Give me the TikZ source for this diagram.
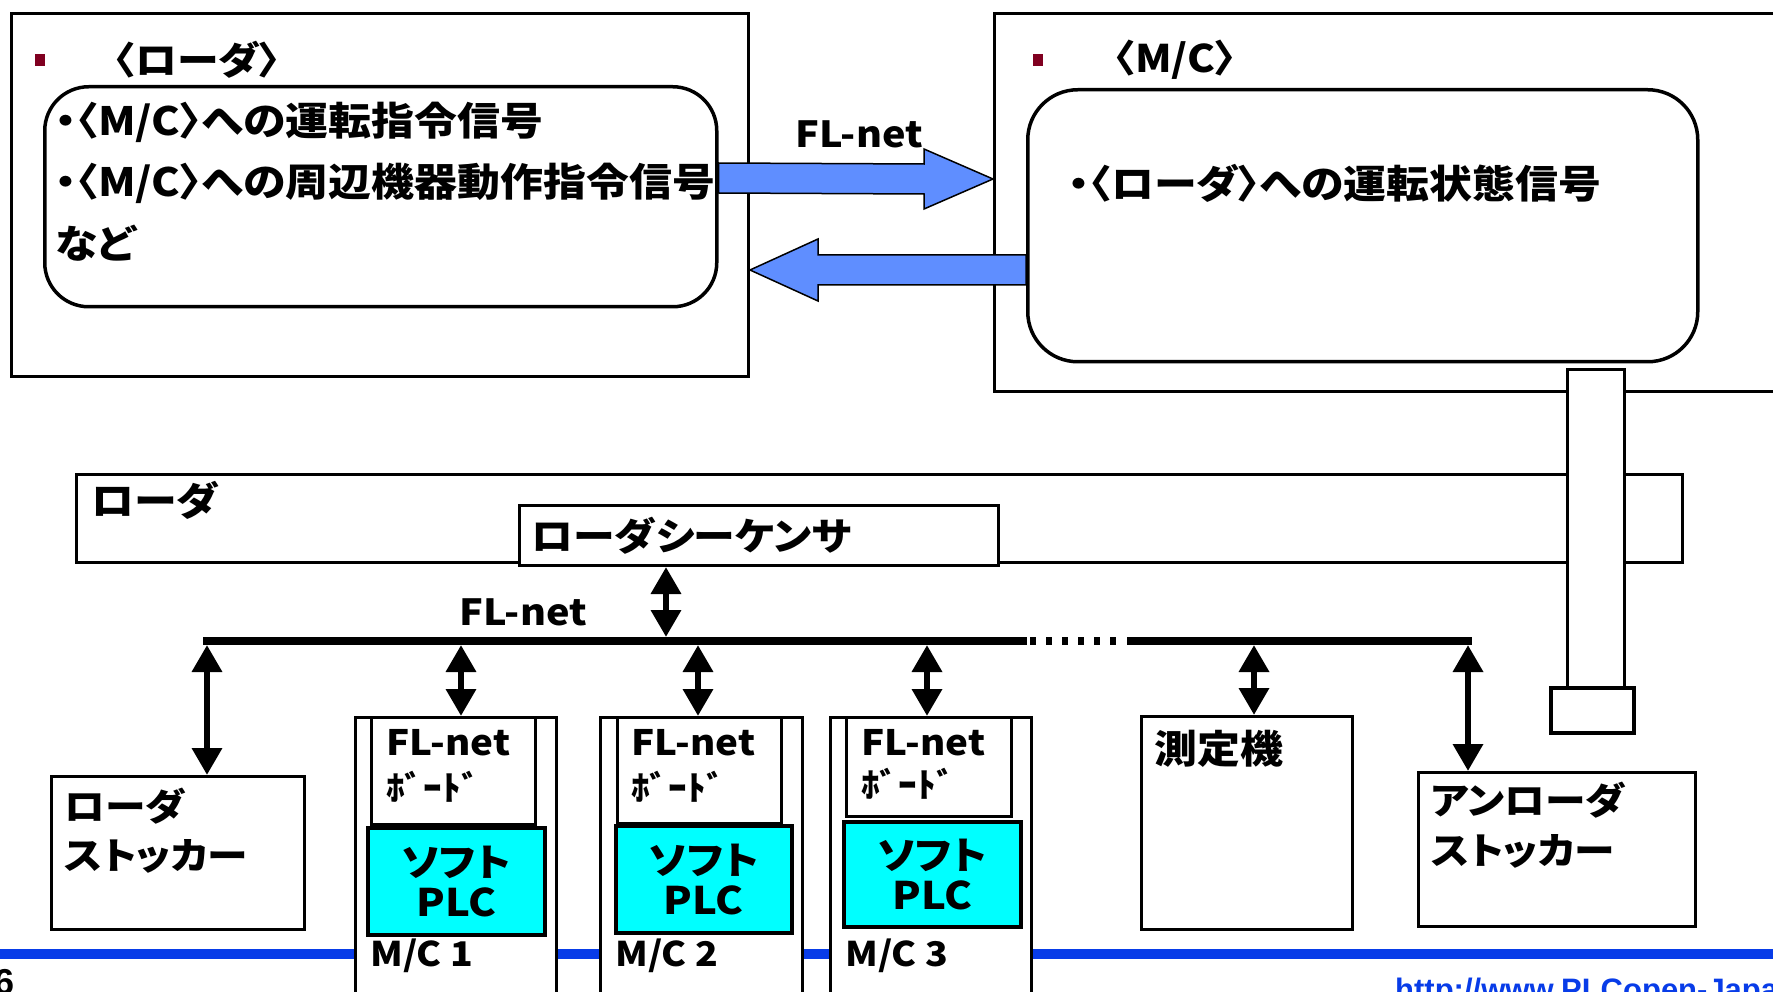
\documentclass[tikz,border=0pt]{standalone}
\usepackage{fontspec}
\setmainfont{Noto Sans CJK JP}[FakeStretch=1.1, RawFeature=+palt]
\newfontfamily\latinfont{Liberation Sans}
\usetikzlibrary{arrows.meta,calc}
\definecolor{arrowblue}{RGB}{95,142,255}
\definecolor{lineblue}{RGB}{8,60,232}
\definecolor{bulletred}{RGB}{128,0,32}
\definecolor{plccyan}{RGB}{0,255,255}
\newcommand\fz[1]{\bfseries\fontsize{#1}{#1}\selectfont}
\tikzset{
  boxx/.style={draw, line width=3pt, fill=white, inner sep=0pt, anchor=north west},
  rbx/.style={boxx, line width=3.5pt, rounded corners=44pt},
  txt/.style={inner sep=0pt, anchor=west},
  bul/.style={fill=bulletred, minimum width=10pt, minimum height=12pt, inner sep=0pt, anchor=north west},
  blockarrow/.style={fill=arrowblue, draw=black, line width=1.5pt, line join=miter},
  dbl/.style={line width=6.5pt, {Triangle[width=29pt,length=27pt]}-{Triangle[width=29pt,length=27pt]}},
  bus/.style={line width=8pt},
  plc/.style={boxx, fill=plccyan, line width=3.5pt},
}
\begin{document}
\begin{tikzpicture}[x=1pt, y=-1pt]
\useasboundingbox (0,0) rectangle (1773,992);
\clip (0,0) rectangle (1773,992);
\fill[white] (0,0) rectangle (1773,992);

% bottom blue rule
\coordinate (blL) at (0,954);
\coordinate (blR) at (1773,954);
\draw[lineblue, line width=10pt] (blL) -- (blR);

% ---------- top: loader ----------
\node[boxx, minimum width=737pt, minimum height=363pt] (lbox) at (10,12) {};
\node[bul] (lbul) at (35,54) {};
\node[txt, font=\fz{38}] (lhead) at (114,60) {〈ローダ〉};
\node[rbx, minimum width=672pt, minimum height=220pt] (lround) at (43,85) {};
\node[txt, font=\fz{39}] (l1) at (55,122) {・〈M/C〉への運転指令信号};
\node[txt, font=\fz{39}] (l2) at (55,183) {・〈M/C〉への周辺機器動作指令信号};
\node[txt, font=\fz{39}] (l3) at (55,243) {など};

% ---------- top: M/C ----------
\node[boxx, minimum width=820pt, minimum height=378pt] (rbox) at (993,12) {};
\node[bul] (rbul) at (1033,54) {};
\node[txt, font=\fz{38}] (rhead) at (1114,60) {〈M/C〉};
\node[rbx, rounded corners=50pt, minimum width=670pt, minimum height=272pt] (rround) at (1026,88) {};
\node[txt, font=\fz{39}] (r1) at (1068,183) {・〈ローダ〉への運転状態信号};

% ---------- block arrows ----------
\coordinate (ra0) at (lround.east |- 0,178);
\coordinate (ra1) at (rbox.west |- 0,179);
\draw[blockarrow] ($(ra0)+(0,-15)$) -- ($(ra1)+(-69,-15)$) -- ($(ra1)+(-69,-30)$) -- (ra1)
  -- ($(ra1)+(-69,30)$) -- ($(ra1)+(-69,15)$) -- ($(ra0)+(0,15)$) -- cycle;
\node[txt, font=\fz{36}] (flnet1) at (795,134) {FL-net};

\coordinate (la0) at (rround.west |- 0,270);
\coordinate (la1) at (lbox.east |- 0,270);
\draw[blockarrow] ($(la0)+(0,-15)$) -- ($(la1)+(68,-15)$) -- ($(la1)+(68,-31)$) -- (la1)
  -- ($(la1)+(68,31)$) -- ($(la1)+(68,15)$) -- ($(la0)+(0,15)$) -- cycle;

% ---------- loader body ----------
\node[boxx, minimum width=1606pt, minimum height=88pt] (loader) at (75,473) {};
\node[txt, font=\fz{39}] (loadertxt) at (91,500) {ローダ};
\node[boxx, minimum width=479pt, minimum height=60pt] (seq) at (518,504) {};
\node[txt, font=\fz{38}] (seqtxt) at (531,536) {ローダシーケンサ};

% arm
\node[boxx, minimum width=57pt, minimum height=318pt] (arm) at (1566,368) {};
\node[boxx, line width=3.5pt, minimum width=83pt, minimum height=45pt] (hand) at (1549,686) {};

% ---------- FL-net bus ----------
\coordinate (busL) at (203,641);
\coordinate (busA) at (1027,641);
\coordinate (busB) at (1030,641);
\coordinate (busC) at (1118,641);
\coordinate (busD) at (1127,641);
\coordinate (busR) at (1472,641);
\draw[bus] (busL) -- (busA);
\draw[bus, dash pattern=on 6pt off 10pt] (busB) -- (busC);
\draw[bus] (busD) -- (busR);
\node[txt, font=\fz{36}] (flnet2) at (459,612) {FL-net};

% ---------- stations ----------
\node[boxx, minimum width=253pt, minimum height=153pt] (lstock) at (50,775) {};
\node[txt, font=\fz{37}] (lst1) at (64,806) {ローダ};
\node[txt, font=\fz{37}] (lst2) at (64,856) {ストッカー};

% M/C 1
\node[boxx, minimum width=201pt, minimum height=300pt] (mc1) at (354,716) {};
\node[boxx, minimum width=164pt, minimum height=107pt] (brd1) at (370,716) {};
\node[plc, minimum width=177pt, minimum height=107pt] (plc1) at (366,826) {};
\node[txt, font=\fz{35}] (brd1a) at (386,743) {FL-net};
\node[txt, font=\fz{34}] (brd1b) at (386,787) {ﾎﾞｰﾄﾞ};
\node[inner sep=0pt, align=center, font=\fz{38}] (plc1t) at (plc1.center) {ソフト\\[2pt]PLC};
\node[txt, font=\fz{34}] (mc1t) at (370,956) {M/C 1};

% M/C 2
\node[boxx, minimum width=202pt, minimum height=300pt] (mc2) at (599,716) {};
\node[boxx, minimum width=164pt, minimum height=106pt] (brd2) at (616,716) {};
\node[plc, minimum width=176pt, minimum height=107pt] (plc2) at (614,824) {};
\node[txt, font=\fz{35}] (brd2a) at (631,743) {FL-net};
\node[txt, font=\fz{34}] (brd2b) at (631,787) {ﾎﾞｰﾄﾞ};
\node[inner sep=0pt, align=center, font=\fz{38}] (plc2t) at (plc2.center) {ソフト\\[2pt]PLC};
\node[txt, font=\fz{34}] (mc2t) at (615,956) {M/C 2};

% M/C 3
\node[boxx, minimum width=201pt, minimum height=300pt] (mc3) at (829,716) {};
\node[boxx, minimum width=165pt, minimum height=99pt] (brd3) at (845,716) {};
\node[plc, minimum width=177pt, minimum height=105pt] (plc3) at (842,820) {};
\node[txt, font=\fz{35}] (brd3a) at (861,743) {FL-net};
\node[txt, font=\fz{34}] (brd3b) at (861,784) {ﾎﾞｰﾄﾞ};
\node[inner sep=0pt, align=center, font=\fz{38}] (plc3t) at (plc3.center) {ソフト\\[2pt]PLC};
\node[txt, font=\fz{34}] (mc3t) at (845,956) {M/C 3};

% measuring machine
\node[boxx, minimum width=211pt, minimum height=213pt] (meas) at (1140,715) {};
\node[txt, font=\fz{39}] (meast) at (1154,749) {測定機};

% unloader stocker
\node[boxx, minimum width=277pt, minimum height=154pt] (ustock) at (1417,771) {};
\node[txt, font=\fz{37}] (ust1) at (1431,800) {アンローダ};
\node[txt, font=\fz{37}] (ust2) at (1431,851) {ストッカー};

% ---------- bus connectors ----------
\coordinate (t0) at (666,637);
\coordinate (t1) at (207,645);
\coordinate (t2) at (461,645);
\coordinate (t3) at (698,645);
\coordinate (t4) at (927,645);
\coordinate (t5) at (1254,645);
\coordinate (t6) at (1468,645);
\draw[dbl] (seq.south -| t0) -- (t0);
\draw[dbl] (t1) -- (t1 |- lstock.north);
\draw[dbl] (t2) -- (t2 |- mc1.north);
\draw[dbl] (t3) -- (t3 |- mc2.north);
\draw[dbl] (t4) -- (t4 |- mc3.north);
\draw[dbl] (t5) -- (t5 |- meas.north);
\draw[dbl] (t6) -- (t6 |- ustock.north);

% ---------- footer ----------
\node[anchor=base west, inner sep=0pt, font=\latinfont\bfseries\fontsize{36}{36}\selectfont] (pagenum) at (-6,994) {6};
\node[anchor=base west, inner sep=0pt, text=lineblue, font=\latinfont\bfseries\fontsize{31}{31}\selectfont] (url) at (1395,1000) {http://www.PLCopen-Japan};
\end{tikzpicture}
\end{document}
